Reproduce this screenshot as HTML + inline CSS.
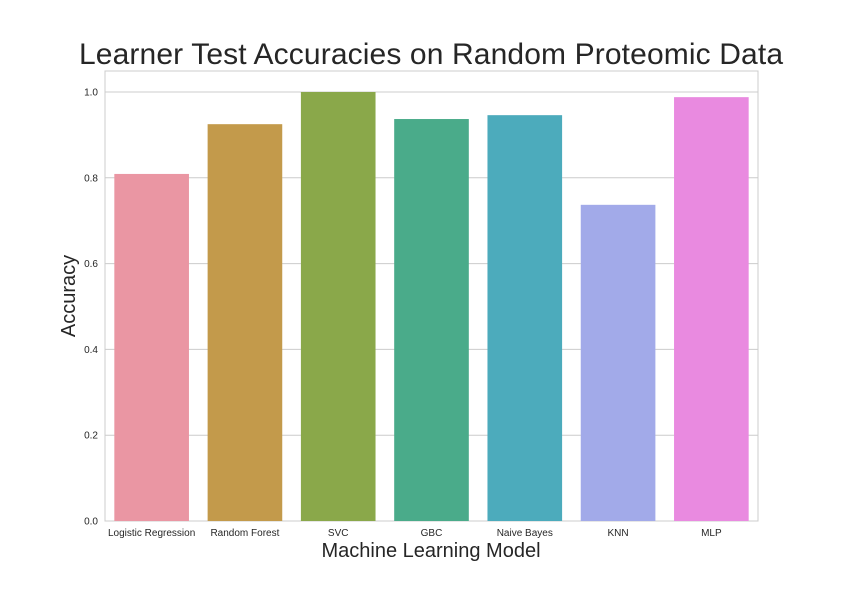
<!DOCTYPE html>
<html><head><meta charset="utf-8"><style>
html,body{margin:0;padding:0;background:#fff;}
svg{display:block;font-family:"Liberation Sans",Arial,sans-serif;}
</style></head><body>
<svg id="chart" width="842" height="595" viewBox="0 0 842 595">
<text x="431" y="64" text-anchor="middle" font-size="30" textLength="704" fill="#262626">Learner Test Accuracies on Random Proteomic Data</text>
<rect x="105" y="71" width="653" height="450" fill="#fff" stroke="#cccccc" stroke-width="1"/>
<g id="grid"></g><g id="bars"></g><g id="yticks"></g><g id="xticks"></g>
<text x="431" y="557" text-anchor="middle" font-size="20" fill="#262626">Machine Learning Model</text>
<text transform="translate(75,296) rotate(-90)" text-anchor="middle" font-size="20" fill="#262626">Accuracy</text>
</svg>
<script>
const categories=["Logistic Regression","Random Forest","SVC","GBC","Naive Bayes","KNN","MLP"];
const accuracies=[0.809,0.925,1.0,0.937,0.946,0.737,0.988];
const colors=["#ea96a3","#c39a4b","#8aa84a","#4aab8a","#4cabbc","#a2aae9","#e98ae0"];
const yTicks=[0.0,0.2,0.4,0.6,0.8,1.0];
const NS="http://www.w3.org/2000/svg";
const L=105,R=758,B=521,T1=92;
const y=v=>B-(B-T1)*v;
const bw=(R-L)/categories.length;
const x=i=>L+bw*i;
const grid=document.getElementById('grid'),bars=document.getElementById('bars'),yt=document.getElementById('yticks'),xt=document.getElementById('xticks');
yTicks.forEach(t=>{
 const ln=document.createElementNS(NS,'line');
 ln.setAttribute('x1',L);ln.setAttribute('x2',R);ln.setAttribute('y1',y(t));ln.setAttribute('y2',y(t));
 ln.setAttribute('stroke','#cccccc');ln.setAttribute('stroke-width','1');
 
 
 grid.appendChild(ln);
 const tx=document.createElementNS(NS,'text');
 tx.setAttribute('x',L-7);tx.setAttribute('y',y(t)+3.5);tx.setAttribute('text-anchor','end');
 tx.setAttribute('font-size','10');tx.setAttribute('fill','#262626');
 tx.textContent=t.toFixed(1);
 
 
 yt.appendChild(tx);
});
categories.forEach((c,i)=>{
 const r=document.createElementNS(NS,'rect');
 const w=bw*0.8;
 r.setAttribute('x',x(i)+(bw-w)/2);r.setAttribute('width',w);
 r.setAttribute('y',y(accuracies[i]));r.setAttribute('height',B-y(accuracies[i]));
 r.setAttribute('fill',colors[i]);
 
 
 bars.appendChild(r);
 const tx=document.createElementNS(NS,'text');
 tx.setAttribute('x',x(i)+bw/2);tx.setAttribute('y',B+15);tx.setAttribute('text-anchor','middle');
 tx.setAttribute('font-size','10');tx.setAttribute('fill','#262626');
 tx.textContent=c;
 
 
 xt.appendChild(tx);
});
</script>
</body></html>
